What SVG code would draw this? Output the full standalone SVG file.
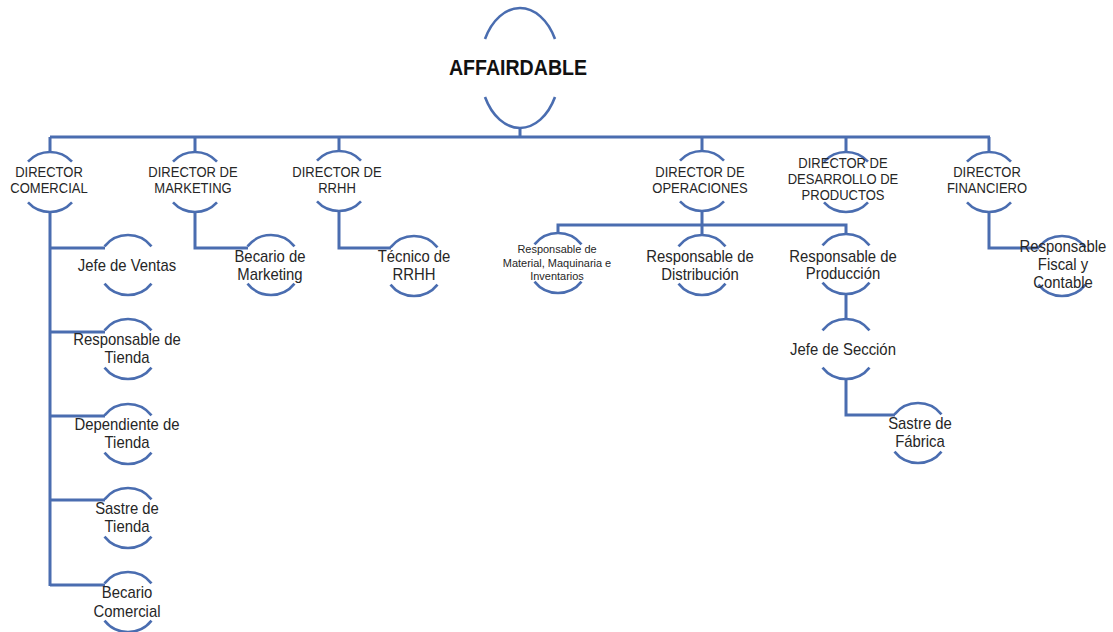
<svg xmlns="http://www.w3.org/2000/svg" width="1113" height="632" viewBox="0 0 1113 632">
<style>
.arc{fill:none;stroke:#4a6db0;stroke-width:2.6}
.ln{fill:none;stroke:#4a6db0;stroke-width:3}
text{font-family:"Liberation Sans",Arial,sans-serif;fill:#262626;text-anchor:middle}
.root{font-size:22px;font-weight:bold;fill:#111}
.d{font-size:14px}
.n{font-size:16px}
.s{font-size:11.8px}
</style>
<rect width="1113" height="632" fill="#fff"/>
<g id="connectors">
<path class="ln" d="M520,128 V137 M50,137 H990 M50,137 V152 M195,137 V152 M339,137 V151 M702,137 V151 M846,137 V152 M989,137 V152"/>
<path class="ln" d="M50,212 V586 M50,248 H105 M50,332 H105 M50,416 H105 M50,500 H105 M50,585 H105"/>
<path class="ln" d="M195,212 V248 H248"/>
<path class="ln" d="M339,211 V248 H391"/>
<path class="ln" d="M702,211 V235 M558,234 V225 H846 V235"/>
<path class="ln" d="M846,294 V319 M846,379 V415 H895"/>
<path class="ln" d="M989,212 V248 H1039"/>
</g>
<g id="root">
<path class="arc" d="M485,39 A40,60 0 0 1 555,39 M485,97 A40,60 0 0 0 555,97"/>
<text class="root" transform="translate(518 0) scale(0.89 1)" x="0" y="75">AFFAIRDABLE</text>
</g>
<g id="dir-comercial">
<path class="arc" d="M28,161.6 A30,30 0 0 1 72,161.6 M28,202.4 A30,30 0 0 0 72,202.4"/>
<text class="d" transform="translate(49 0) scale(0.93 1)"><tspan x="0" y="177">DIRECTOR</tspan><tspan x="0" y="193">COMERCIAL</tspan></text>
</g>
<g id="dir-marketing">
<path class="arc" d="M173,161.6 A30,30 0 0 1 217,161.6 M173,202.4 A30,30 0 0 0 217,202.4"/>
<text class="d" transform="translate(193 0) scale(0.93 1)"><tspan x="0" y="177">DIRECTOR DE</tspan><tspan x="0" y="193">MARKETING</tspan></text>
</g>
<g id="dir-rrhh">
<path class="arc" d="M317,160.6 A30,30 0 0 1 361,160.6 M317,201.4 A30,30 0 0 0 361,201.4"/>
<text class="d" transform="translate(337 0) scale(0.93 1)"><tspan x="0" y="177">DIRECTOR DE</tspan><tspan x="0" y="193">RRHH</tspan></text>
</g>
<g id="dir-operaciones">
<path class="arc" d="M680,160.6 A30,30 0 0 1 724,160.6 M680,201.4 A30,30 0 0 0 724,201.4"/>
<text class="d" transform="translate(700 0) scale(0.93 1)"><tspan x="0" y="177">DIRECTOR DE</tspan><tspan x="0" y="193">OPERACIONES</tspan></text>
</g>
<g id="dir-desarrollo">
<path class="arc" d="M824,161.6 A30,30 0 0 1 868,161.6 M824,202.4 A30,30 0 0 0 868,202.4"/>
<text class="d" transform="translate(843 0) scale(0.93 1)"><tspan x="0" y="168">DIRECTOR DE</tspan><tspan x="0" y="184">DESARROLLO DE</tspan><tspan x="0" y="200">PRODUCTOS</tspan></text>
</g>
<g id="dir-financiero">
<path class="arc" d="M967,161.6 A30,30 0 0 1 1011,161.6 M967,202.4 A30,30 0 0 0 1011,202.4"/>
<text class="d" transform="translate(987 0) scale(0.93 1)"><tspan x="0" y="177">DIRECTOR</tspan><tspan x="0" y="193">FINANCIERO</tspan></text>
</g>
<g id="jefe-ventas">
<path class="arc" d="M104.5,246.4 A30,30 0 0 1 151.5,246.4 M104.5,283.6 A30,30 0 0 0 151.5,283.6"/>
<text class="n" transform="translate(127 0) scale(0.93 1)" x="0" y="271">Jefe de Ventas</text>
</g>
<g id="resp-tienda">
<path class="arc" d="M104.5,330.4 A30,30 0 0 1 151.5,330.4 M104.5,367.6 A30,30 0 0 0 151.5,367.6"/>
<text class="n" transform="translate(127 0) scale(0.93 1)"><tspan x="0" y="345">Responsable de</tspan><tspan x="0" y="363">Tienda</tspan></text>
</g>
<g id="dependiente-tienda">
<path class="arc" d="M104.5,415.4 A30,30 0 0 1 151.5,415.4 M104.5,452.6 A30,30 0 0 0 151.5,452.6"/>
<text class="n" transform="translate(127 0) scale(0.93 1)"><tspan x="0" y="430">Dependiente de</tspan><tspan x="0" y="448">Tienda</tspan></text>
</g>
<g id="sastre-tienda">
<path class="arc" d="M104.5,499.4 A30,30 0 0 1 151.5,499.4 M104.5,536.6 A30,30 0 0 0 151.5,536.6"/>
<text class="n" transform="translate(127 0) scale(0.93 1)"><tspan x="0" y="514">Sastre de</tspan><tspan x="0" y="532">Tienda</tspan></text>
</g>
<g id="becario-comercial">
<path class="arc" d="M104.5,583.4 A30,30 0 0 1 151.5,583.4 M104.5,620.6 A30,30 0 0 0 151.5,620.6"/>
<text class="n" transform="translate(127 0) scale(0.93 1)"><tspan x="0" y="598">Becario</tspan><tspan x="0" y="617">Comercial</tspan></text>
</g>
<g id="becario-marketing">
<path class="arc" d="M247.5,246.4 A30,30 0 0 1 294.5,246.4 M247.5,283.6 A30,30 0 0 0 294.5,283.6"/>
<text class="n" transform="translate(270 0) scale(0.93 1)"><tspan x="0" y="262">Becario de</tspan><tspan x="0" y="280">Marketing</tspan></text>
</g>
<g id="tecnico-rrhh">
<path class="arc" d="M390.5,247.4 A30,30 0 0 1 437.5,247.4 M390.5,284.6 A30,30 0 0 0 437.5,284.6"/>
<text class="n" transform="translate(414 0) scale(0.93 1)"><tspan x="0" y="262">Técnico de</tspan><tspan x="0" y="280">RRHH</tspan></text>
</g>
<g id="resp-material">
<path class="arc" d="M534.5,244.4 A30,30 0 0 1 581.5,244.4 M534.5,281.6 A30,30 0 0 0 581.5,281.6"/>
<text class="s" transform="translate(557 0) scale(0.93 1)"><tspan x="0" y="253">Responsable de</tspan><tspan x="0" y="267">Material, Maquinaria e</tspan><tspan x="0" y="280">Inventarios</tspan></text>
</g>
<g id="resp-distribucion">
<path class="arc" d="M678.5,246.4 A30,30 0 0 1 725.5,246.4 M678.5,283.6 A30,30 0 0 0 725.5,283.6"/>
<text class="n" transform="translate(700 0) scale(0.93 1)"><tspan x="0" y="262">Responsable de</tspan><tspan x="0" y="280">Distribución</tspan></text>
</g>
<g id="resp-produccion">
<path class="arc" d="M822.5,245.4 A30,30 0 0 1 869.5,245.4 M822.5,282.6 A30,30 0 0 0 869.5,282.6"/>
<text class="n" transform="translate(843 0) scale(0.93 1)"><tspan x="0" y="262">Responsable de</tspan><tspan x="0" y="279">Producción</tspan></text>
</g>
<g id="jefe-seccion">
<path class="arc" d="M822.5,330.4 A30,30 0 0 1 869.5,330.4 M822.5,367.6 A30,30 0 0 0 869.5,367.6"/>
<text class="n" transform="translate(843 0) scale(0.93 1)" x="0" y="355">Jefe de Sección</text>
</g>
<g id="sastre-fabrica">
<path class="arc" d="M894.5,414.4 A30,30 0 0 1 941.5,414.4 M894.5,451.6 A30,30 0 0 0 941.5,451.6"/>
<text class="n" transform="translate(920 0) scale(0.93 1)"><tspan x="0" y="429">Sastre de</tspan><tspan x="0" y="447">Fábrica</tspan></text>
</g>
<g id="resp-fiscal">
<path class="arc" d="M1038.5,247.4 A30,30 0 0 1 1085.5,247.4 M1038.5,284.6 A30,30 0 0 0 1085.5,284.6"/>
<text class="n" transform="translate(1063 0) scale(0.93 1)"><tspan x="0" y="252">Responsable</tspan><tspan x="0" y="270">Fiscal y</tspan><tspan x="0" y="288">Contable</tspan></text>
</g>
</svg>
